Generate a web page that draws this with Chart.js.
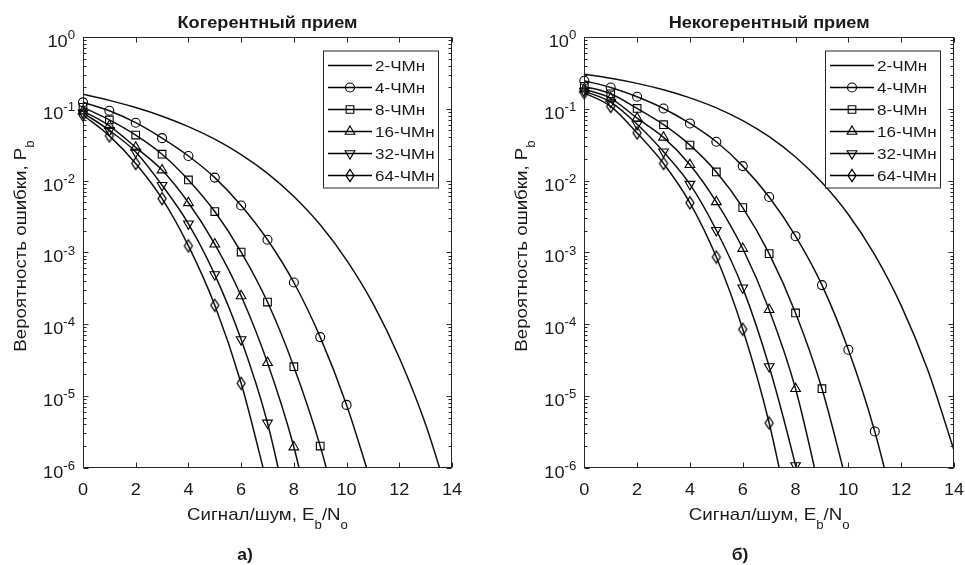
<!DOCTYPE html>
<html>
<head>
<meta charset="utf-8">
<script src="https://cdn.jsdelivr.net/npm/chart.js@4.4.1/dist/chart.umd.min.js"></script>
<style>
html,body{margin:0;padding:0;background:#fff;}
#wrap{position:relative;width:965px;height:565px;}
canvas{position:absolute;left:0;top:0;}
</style>
</head>
<body>
<div id="wrap">
	<canvas id="coh" width="965" height="565"></canvas>
	<canvas id="ncoh" width="965" height="565"></canvas>
</div>
<script>
// DATA
// --------------------
var snrDb = [0,1,2,3,4,5,6,7,8,9,10,11,12,13,14];
var seriesNames = ['2-ЧМн','4-ЧМн','8-ЧМн','16-ЧМн','32-ЧМн','64-ЧМн'];

// когерентный прием
var coh2  = [0.159,0.131,0.104,0.0789,0.0565,0.0377,0.0230,0.0126,0.0060,0.00242,7.8e-4,1.94e-4,3.4e-5,4.0e-6,2.7e-7];
var coh4  = [0.123,0.094,0.064,0.039,0.022,0.011,0.0045,0.0015,3.8e-4,6.6e-5,7.5e-6,5.2e-7];
var coh8  = [0.105,0.070,0.043,0.0233,0.0102,0.0037,1.01e-3,2.03e-4,2.55e-5,2.0e-6,8e-8];
var coh16 = [0.093,0.058,0.029,0.014,0.0049,0.0013,2.47e-4,2.9e-5,1.94e-6,5e-8];
var coh32 = [0.088,0.050,0.025,0.0086,0.0025,4.9e-4,6.1e-5,4.2e-6,1.0e-7];
var coh64 = [0.082,0.042,0.0173,0.0056,0.00123,1.83e-4,1.5e-5,5.7e-7];

// некогерентный прием
var nc2  = [0.303,0.266,0.226,0.184,0.142,0.103,0.0683,0.0408,0.0213,0.0094,0.00337,9.2e-4,1.81e-4,2.33e-5,1.75e-6];
var nc4  = [0.246,0.198,0.147,0.101,0.0625,0.0347,0.0159,0.0059,0.00168,3.5e-4,4.4e-5,3.2e-6,1.1e-7];
var nc8  = [0.205,0.162,0.101,0.060,0.0312,0.0132,0.0042,9.6e-4,1.43e-4,1.26e-5,5e-7];
var nc16 = [0.188,0.140,0.074,0.040,0.0166,0.00505,0.00113,1.59e-4,1.26e-5,3.5e-7];
var nc32 = [0.176,0.124,0.061,0.0252,0.0089,0.00203,3.2e-4,2.57e-5,1.07e-6,2.7e-8];
var nc64 = [0.167,0.108,0.046,0.0173,0.0049,8.6e-4,8.5e-5,4.2e-6,8e-8];

var xTicks = [0,2,4,6,8,10,12,14];
var yExps = [0,-1,-2,-3,-4,-5,-6];

var titles = ['Когерентный прием','Некогерентный прием'];
var letters = ['а)','б)'];
var xLabel = [['Сигнал/шум, E',0],['b',1],['/N',0],['o',1]];
var yLabel = [['Вероятность ошибки, P',0],['b',1]];

// STYLE
// --------------------
var FONT = '"Liberation Sans", Arial, Helvetica, sans-serif';
var SX = 1.1;
var INK = '#1a1a1a';

function diamondMarker(){
	var c = document.createElement('canvas');
	c.width = 12; c.height = 15;
	var g = c.getContext('2d');
	g.strokeStyle = '#000';
	g.lineWidth = 1.3;
	g.beginPath();
	g.moveTo(6,1.5); g.lineTo(10,7.5); g.lineTo(6,13.5); g.lineTo(2,7.5);
	g.closePath();
	g.stroke();
	return c;
}

var markers = [
	{pointStyle:'circle', radius:0, rotation:0},
	{pointStyle:'circle', radius:4.5, rotation:0},
	{pointStyle:'rect', radius:5.4, rotation:0},
	{pointStyle:'triangle', radius:5.6, rotation:0},
	{pointStyle:'triangle', radius:5.6, rotation:180},
	{pointStyle:diamondMarker(), radius:5, rotation:0}
];

// METHODS
// --------------------
function drawMarker(ctx, m, x, y){
	if(m.radius === 0) return;
	var r = m.radius, s;
	ctx.beginPath();
	if(m.pointStyle === 'circle'){
		ctx.arc(x, y, r, 0, Math.PI*2);
	} else if(m.pointStyle === 'rect'){
		s = r*Math.SQRT1_2;
		ctx.rect(x-s, y-s, 2*s, 2*s);
	} else if(m.pointStyle === 'triangle'){
		var d = m.rotation ? -1 : 1;
		ctx.moveTo(x, y - d*r);
		ctx.lineTo(x + 0.866*r, y + d*0.5*r);
		ctx.lineTo(x - 0.866*r, y + d*0.5*r);
		ctx.closePath();
	} else {
		ctx.drawImage(m.pointStyle, Math.round(x - m.pointStyle.width/2), Math.round(y - m.pointStyle.height/2));
		return;
	}
	ctx.stroke();
}

// text with subscripts, parts = [[text, 0|1(sub)]]
function richText(ctx, parts, size, cx, cy, align, rotate){
	var small = Math.round(size*0.72);
	var w = 0, i;
	for(i=0;i<parts.length;i++){
		ctx.font = (parts[i][1] ? small : size) + 'px ' + FONT;
		w += ctx.measureText(parts[i][0]).width;
	}
	ctx.save();
	ctx.translate(cx, cy);
	if(rotate) ctx.rotate(-Math.PI/2);
	ctx.scale(SX,1);
	ctx.textBaseline = 'alphabetic';
	ctx.textAlign = 'left';
	var x = align === 'center' ? -w/2 : (align === 'right' ? -w : 0);
	for(i=0;i<parts.length;i++){
		var p = parts[i];
		ctx.font = (p[1] ? small : size) + 'px ' + FONT;
		ctx.fillText(p[0], x, p[1] ? size*0.5 : 0);
		x += ctx.measureText(p[0]).width;
	}
	ctx.restore();
}

function plainText(ctx, str, font, x, y, align){
	ctx.save();
	ctx.font = font;
	ctx.translate(x, y);
	ctx.scale(SX,1);
	ctx.textAlign = align;
	ctx.textBaseline = 'alphabetic';
	ctx.fillText(str, 0, 0);
	ctx.restore();
}

function axesPlugin(panel){
	return {
		id:'matlabAxes',
		afterDraw:function(chart){
			var ctx = chart.ctx, a = chart.chartArea;
			var xs = chart.scales.x, ys = chart.scales.y;
			var L = Math.round(a.left)+0.5, R = Math.round(a.right)-0.5;
			var T = Math.round(a.top)+0.5, B = Math.round(a.bottom)-0.5;
			var cx = (a.left+a.right)/2;

			ctx.save();
			ctx.strokeStyle = '#262626';
			ctx.lineWidth = 1;
			ctx.strokeRect(L, T, R-L, B-T);

			// ticks, pointing inward
			ctx.beginPath();
			xTicks.forEach(function(v){
				var px = Math.round(xs.getPixelForValue(v))+0.5;
				ctx.moveTo(px, B); ctx.lineTo(px, B-5);
				ctx.moveTo(px, T); ctx.lineTo(px, T+5);
			});
			yExps.forEach(function(e){
				var py = Math.round(ys.getPixelForValue(Math.pow(10,e)))+0.5;
				ctx.moveTo(L, py); ctx.lineTo(L+5, py);
				ctx.moveTo(R, py); ctx.lineTo(R-5, py);
				if(e > -6){
					for(var k=2;k<10;k++){
						var my = Math.round(ys.getPixelForValue(k*Math.pow(10,e-1)))+0.5;
						ctx.moveTo(L, my); ctx.lineTo(L+3, my);
						ctx.moveTo(R, my); ctx.lineTo(R-3, my);
					}
				}
			});
			ctx.stroke();

			// tick labels
			ctx.fillStyle = INK;
			xTicks.forEach(function(v){
				plainText(ctx, String(v), '16.5px ' + FONT, xs.getPixelForValue(v), 495, 'center');
			});
			yExps.forEach(function(e){
				var py = ys.getPixelForValue(Math.pow(10,e));
				var ex = e === 0 ? '0' : '-' + (-e);
				ctx.font = '12px ' + FONT;
				var we = ctx.measureText(ex).width*SX;
				var rx = a.left - 8;
				plainText(ctx, ex, '12px ' + FONT, rx - we, py + 2.3, 'left');
				plainText(ctx, '10', '16.5px ' + FONT, rx - we, py + 10, 'right');
			});

			// titles and axis labels
			plainText(ctx, panel.title, 'bold 16.5px ' + FONT, cx, 27.5, 'center');
			richText(ctx, xLabel, 17, cx, 520, 'center', false);
			richText(ctx, yLabel, 17, a.left - 57.5, 246, 'center', true);
			plainText(ctx, panel.letter, 'bold 16px ' + FONT, panel.letterX, 560, 'center');

			// legend
			var bl = panel.legendLeft, bt = 50.5, bw = 115, bh = 137;
			ctx.fillStyle = '#fff';
			ctx.fillRect(bl, bt, bw, bh);
			ctx.strokeStyle = '#262626';
			ctx.strokeRect(bl+0.5, bt+0.5, bw, bh);
			ctx.strokeStyle = '#000';
			seriesNames.forEach(function(name, i){
				var ry = bt + 15 + i*22;
				ctx.lineWidth = 1.4;
				ctx.beginPath();
				ctx.moveTo(bl+5, ry); ctx.lineTo(bl+49, ry);
				ctx.stroke();
				ctx.lineWidth = 1.1;
				drawMarker(ctx, markers[i], bl+27, ry);
				ctx.fillStyle = INK;
				plainText(ctx, name, '15.5px ' + FONT, bl+52, ry+5.5, 'left');
			});
			ctx.restore();
		}
	};
}

function makeChart(id, series, pad, panel){
	var datasets = series.map(function(vals, i){
		var m = markers[i];
		return {
			label: seriesNames[i],
			data: vals.map(function(v, j){ return {x: snrDb[j], y: v}; }),
			borderColor: '#111',
			borderWidth: 1.5,
			pointStyle: m.pointStyle,
			pointRadius: m.radius,
			pointRotation: m.rotation,
			pointBorderColor: '#000',
			pointBackgroundColor: 'rgba(0,0,0,0)',
			pointBorderWidth: 1.1,
			cubicInterpolationMode: 'monotone',
			fill: false,
			clip: {left: 10, top: 0, right: 0, bottom: 0}
		};
	});

	return new Chart(document.getElementById(id), {
		type: 'line',
		data: {datasets: datasets},
		options: {
			responsive: false,
			animation: false,
			devicePixelRatio: 1,
			events: [],
			layout: {padding: pad},
			plugins: {legend: {display: false}, tooltip: {enabled: false}},
			scales: {
				x: {type: 'linear', min: 0, max: 14, display: false},
				y: {type: 'logarithmic', min: 1e-6, max: 1, display: false}
			}
		},
		plugins: [axesPlugin(panel)]
	});
}

makeChart('coh', [coh2, coh4, coh8, coh16, coh32, coh64],
	{left: 83, right: 513, top: 37, bottom: 97.3},
	{title: titles[0], letter: letters[0], letterX: 245, legendLeft: 323});

makeChart('ncoh', [nc2, nc4, nc8, nc16, nc32, nc64],
	{left: 584.3, right: 11, top: 37, bottom: 97.3},
	{title: titles[1], letter: letters[1], letterX: 740, legendLeft: 825});
</script>
</body>
</html>
